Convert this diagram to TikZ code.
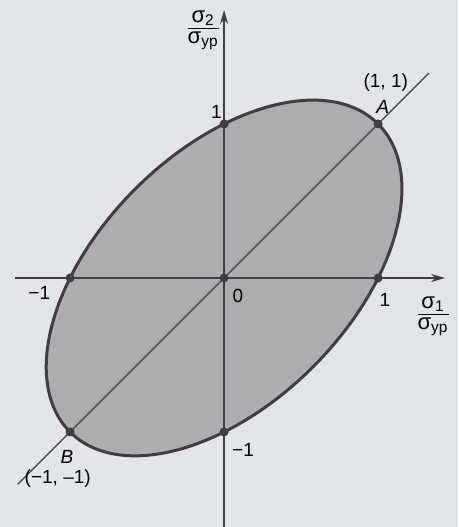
\documentclass[tikz,border=0pt]{standalone}
\usepackage{fontspec}
\setmainfont{Liberation Sans}
\usetikzlibrary{arrows.meta,positioning,calc}
\definecolor{ScanPaper}{HTML}{E1E5E7}
\definecolor{YieldGray}{HTML}{ADADAF}
\definecolor{InkDark}{HTML}{433C43}
\newcommand{\sigratio}[1]{\renewcommand{\arraystretch}{0.85}%
  \begin{tabular}{@{}c@{}}σ\textsubscript{#1}\\\hline σ\textsubscript{yp}\end{tabular}}

\begin{document}
\begin{tikzpicture}[x=2.7cm,y=2.7cm,font=\fontsize{9.5}{11}\selectfont,
    axis/.style={InkDark,line width=0.8pt},
    arrowaxis/.style={axis,-{Stealth[length=7pt,width=4pt]}},
    locus/.style={InkDark,line width=1.5pt,fill=YieldGray},
    dot/.style={circle,fill=InkDark,inner sep=0pt,minimum size=4.5pt}]
  \useasboundingbox[fill=ScanPaper] (-1.455,-1.617) rectangle (1.519,1.805);
  % ellipse sigma1^2 - sigma1 sigma2 + sigma2^2 = 1
  \draw[locus,rotate=45] (0,0) ellipse ({sqrt(2)} and {sqrt(2/3)});
  \coordinate (xl) at (-1.36,0);
  \coordinate (xr) at (1.435,0);
  \coordinate (yb) at (0,-1.617);
  \coordinate (yt) at (0,1.74);
  \coordinate (dl) at (-1.34,-1.34);
  \coordinate (dr) at (1.33,1.33);
  \draw[arrowaxis] (xl) -- (xr);
  \draw[arrowaxis] (yb) -- (yt);
  \draw[InkDark,line width=0.6pt] (dl) -- (dr);
  % points on the locus
  \node[dot] (o) at (0,0) {};
  \node[dot] (pxr) at (1,0) {};
  \node[dot] (pxl) at (-1,0) {};
  \node[dot] (pyt) at (0,1) {};
  \node[dot] (pyb) at (0,-1) {};
  \node[dot] (A) at (1,1) {};
  \node[dot] (B) at (-1,-1) {};
  % labels
  \node (s2lab) at (-0.136,1.617) {\fontsize{11}{12}\selectfont\sigratio{2}};
  \node (s1lab) at (1.357,-0.24) {\fontsize{11}{12}\selectfont\sigratio{1}};
  \node (Alab) at (1.03,1.11) {\itshape A};
  \node (Acoord) at (1.05,1.266) {(1, 1)};
  \node (Blab) at (-1.02,-1.16) {\itshape B};
  \node (Bcoord) at (-1.08,-1.305) {(−1, –1)};
  \node (olab) at (0.09,-0.117) {0};
  \node (xrlab) at (1.045,-0.143) {1};
  \node (xllab) at (-1.20,-0.10) {−1};
  \node (ytlab) at (-0.05,1.08) {1};
  \node (yblab) at (0.123,-1.117) {−1};
\end{tikzpicture}
\end{document}
